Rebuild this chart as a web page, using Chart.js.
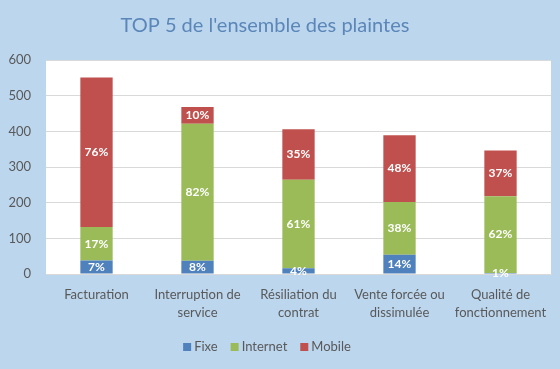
<!DOCTYPE html>
<html>
<head>
<meta charset="utf-8">
<script src="https://cdn.jsdelivr.net/npm/chart.js@4.4.1/dist/chart.umd.min.js"></script>
<style>
  html, body { margin: 0; padding: 0; background: #bcd6ee; }
  #cadre { width: 560px; height: 369px; position: relative; }
</style>
</head>
<body>
<div id="cadre"><canvas id="graphique"></canvas></div>
<script>
// Données
const categories = [
  "Facturation",
  ["Interruption de", "service"],
  ["Résiliation du", "contrat"],
  ["Vente forcée ou", "dissimulée"],
  ["Qualité de", "fonctionnement"]
];
const fixe = [38, 37, 16, 54, 3];
const internet = [94, 384, 248, 148, 215];
const mobile = [419, 47, 142, 187, 128];

const pctFixe = ["7%", "8%", "4%", "14%", "1%"];
const pctInternet = ["17%", "82%", "61%", "38%", "62%"];
const pctMobile = ["76%", "10%", "35%", "48%", "37%"];

const titre = "TOP 5 de l'ensemble des plaintes";
const couleurs = { fixe: "#4f81bd", internet: "#9bbb59", mobile: "#c0504d" };
const police = "Lato, 'Open Sans', sans-serif";
const gris = "#595959";

// fond bleu + zone de tracé blanche
const fond = {
  id: "fond",
  beforeDraw(chart) {
    const { ctx, chartArea: a } = chart;
    ctx.save();
    ctx.fillStyle = "#bcd6ee";
    ctx.fillRect(0, 0, chart.width, chart.height);
    ctx.fillStyle = "#ffffff";
    ctx.fillRect(a.left, a.top, a.right - a.left, a.bottom - a.top);
    ctx.restore();
  }
};

// pourcentages au centre de chaque segment
const etiquettes = {
  id: "etiquettes",
  afterDatasetsDraw(chart) {
    const ctx = chart.ctx;
    const textes = [pctFixe, pctInternet, pctMobile];
    ctx.save();
    ctx.font = "bold 12px " + police;
    ctx.fillStyle = "#ffffff";
    ctx.textAlign = "center";
    ctx.textBaseline = "middle";
    chart.data.datasets.forEach((ds, i) => {
      chart.getDatasetMeta(i).data.forEach((bar, j) => {
        const y = (bar.y + bar.base) / 2;
        ctx.fillText(textes[i][j], bar.x, y);
      });
    });
    ctx.restore();
  }
};

// titre et légende dessinés à la main (décalés comme sur l'original)
const titreEtLegende = {
  id: "titreEtLegende",
  afterDraw(chart) {
    const ctx = chart.ctx;
    ctx.save();
    ctx.font = "20px " + police;
    ctx.fillStyle = "#5b86b8";
    ctx.textAlign = "center";
    ctx.textBaseline = "middle";
    ctx.fillText(titre, 265, 26);

    ctx.font = "13px " + police;
    ctx.textAlign = "left";
    const items = chart.data.datasets.map(ds => ({ txt: ds.label, col: ds.backgroundColor }));
    const larg = items.map(it => 11 + ctx.measureText(it.txt).width);
    const total = larg.reduce((s, w) => s + w, 0) + 13 * (items.length - 1);
    let x = 267 - total / 2;
    items.forEach((it, k) => {
      ctx.fillStyle = it.col;
      ctx.fillRect(x, 343, 8, 8);
      ctx.fillStyle = gris;
      ctx.fillText(it.txt, x + 11, 347);
      x += larg[k] + 13;
    });
    ctx.restore();
  }
};

new Chart(document.getElementById("graphique"), {
  type: "bar",
  data: {
    labels: categories,
    datasets: [
      { label: "Fixe", data: fixe, backgroundColor: couleurs.fixe },
      { label: "Internet", data: internet, backgroundColor: couleurs.internet },
      { label: "Mobile", data: mobile, backgroundColor: couleurs.mobile }
    ]
  },
  options: {
    responsive: true,
    maintainAspectRatio: false,
    animation: false,
    layout: { padding: { top: 60, left: 0, right: 9, bottom: 0 } },
    datasets: { bar: { barPercentage: 0.8, categoryPercentage: 0.4 } },
    plugins: {
      legend: { display: false },
      title: { display: false },
      tooltip: { enabled: false }
    },
    scales: {
      x: {
        stacked: true,
        grid: { display: false, drawTicks: false },
        border: { color: "#d9d9d9" },
        ticks: { color: gris, padding: 11, font: { family: police, size: 13, lineHeight: 1.45 }, maxRotation: 0 },
        afterFit(s) { s.height = 95; }
      },
      y: {
        stacked: true,
        min: 0,
        max: 600,
        grid: { color: "#d9d9d9", drawTicks: false },
        border: { display: false },
        ticks: { stepSize: 100, color: gris, padding: 15, font: { family: police, size: 13 } },
        afterFit(s) { s.width = 46; }
      }
    }
  },
  plugins: [fond, etiquettes, titreEtLegende]
});
</script>
</body>
</html>
